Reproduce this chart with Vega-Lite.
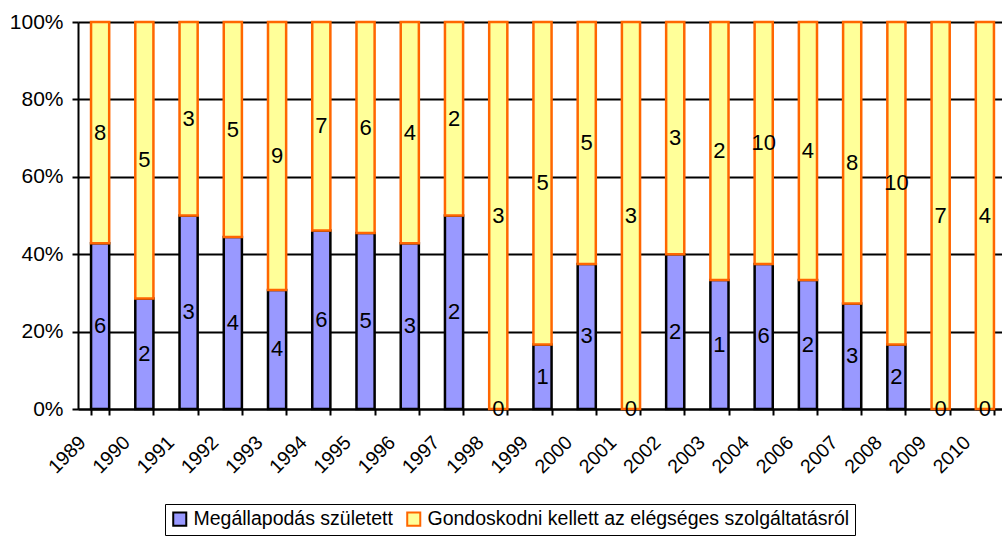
{
  "$schema": "https://vega.github.io/schema/vega-lite/v6.json",
  "width": 924,
  "height": 387,
  "autosize": {"type": "none"},
  "padding": {"left": 78, "top": 22, "right": 0, "bottom": 132},
  "background": "white",
  "config": {
    "font": "Liberation Sans",
    "view": {"stroke": null},
    "axis": {"labelColor": "black", "labelFont": "Liberation Sans"}
  },
  "data": {
    "values": [
      {"year": "1989", "series": "Megállapodás született", "order": 1, "value": 6},
      {"year": "1989", "series": "Gondoskodni kellett az elégséges szolgáltatásról", "order": 2, "value": 8},
      {"year": "1990", "series": "Megállapodás született", "order": 1, "value": 2},
      {"year": "1990", "series": "Gondoskodni kellett az elégséges szolgáltatásról", "order": 2, "value": 5},
      {"year": "1991", "series": "Megállapodás született", "order": 1, "value": 3},
      {"year": "1991", "series": "Gondoskodni kellett az elégséges szolgáltatásról", "order": 2, "value": 3},
      {"year": "1992", "series": "Megállapodás született", "order": 1, "value": 4},
      {"year": "1992", "series": "Gondoskodni kellett az elégséges szolgáltatásról", "order": 2, "value": 5},
      {"year": "1993", "series": "Megállapodás született", "order": 1, "value": 4},
      {"year": "1993", "series": "Gondoskodni kellett az elégséges szolgáltatásról", "order": 2, "value": 9},
      {"year": "1994", "series": "Megállapodás született", "order": 1, "value": 6},
      {"year": "1994", "series": "Gondoskodni kellett az elégséges szolgáltatásról", "order": 2, "value": 7},
      {"year": "1995", "series": "Megállapodás született", "order": 1, "value": 5},
      {"year": "1995", "series": "Gondoskodni kellett az elégséges szolgáltatásról", "order": 2, "value": 6},
      {"year": "1996", "series": "Megállapodás született", "order": 1, "value": 3},
      {"year": "1996", "series": "Gondoskodni kellett az elégséges szolgáltatásról", "order": 2, "value": 4},
      {"year": "1997", "series": "Megállapodás született", "order": 1, "value": 2},
      {"year": "1997", "series": "Gondoskodni kellett az elégséges szolgáltatásról", "order": 2, "value": 2},
      {"year": "1998", "series": "Megállapodás született", "order": 1, "value": 0},
      {"year": "1998", "series": "Gondoskodni kellett az elégséges szolgáltatásról", "order": 2, "value": 3},
      {"year": "1999", "series": "Megállapodás született", "order": 1, "value": 1},
      {"year": "1999", "series": "Gondoskodni kellett az elégséges szolgáltatásról", "order": 2, "value": 5},
      {"year": "2000", "series": "Megállapodás született", "order": 1, "value": 3},
      {"year": "2000", "series": "Gondoskodni kellett az elégséges szolgáltatásról", "order": 2, "value": 5},
      {"year": "2001", "series": "Megállapodás született", "order": 1, "value": 0},
      {"year": "2001", "series": "Gondoskodni kellett az elégséges szolgáltatásról", "order": 2, "value": 3},
      {"year": "2002", "series": "Megállapodás született", "order": 1, "value": 2},
      {"year": "2002", "series": "Gondoskodni kellett az elégséges szolgáltatásról", "order": 2, "value": 3},
      {"year": "2003", "series": "Megállapodás született", "order": 1, "value": 1},
      {"year": "2003", "series": "Gondoskodni kellett az elégséges szolgáltatásról", "order": 2, "value": 2},
      {"year": "2004", "series": "Megállapodás született", "order": 1, "value": 6},
      {"year": "2004", "series": "Gondoskodni kellett az elégséges szolgáltatásról", "order": 2, "value": 10},
      {"year": "2006", "series": "Megállapodás született", "order": 1, "value": 2},
      {"year": "2006", "series": "Gondoskodni kellett az elégséges szolgáltatásról", "order": 2, "value": 4},
      {"year": "2007", "series": "Megállapodás született", "order": 1, "value": 3},
      {"year": "2007", "series": "Gondoskodni kellett az elégséges szolgáltatásról", "order": 2, "value": 8},
      {"year": "2008", "series": "Megállapodás született", "order": 1, "value": 2},
      {"year": "2008", "series": "Gondoskodni kellett az elégséges szolgáltatásról", "order": 2, "value": 10},
      {"year": "2009", "series": "Megállapodás született", "order": 1, "value": 0},
      {"year": "2009", "series": "Gondoskodni kellett az elégséges szolgáltatásról", "order": 2, "value": 7},
      {"year": "2010", "series": "Megállapodás született", "order": 1, "value": 0},
      {"year": "2010", "series": "Gondoskodni kellett az elégséges szolgáltatásról", "order": 2, "value": 4}
    ]
  },
  "transform": [
    {"stack": "value", "groupby": ["year"], "sort": [{"field": "order", "order": "ascending"}], "offset": "normalize", "as": ["v0", "v1"]},
    {"calculate": "(datum.v0 + datum.v1) / 2", "as": "mid"}
  ],
  "encoding": {
    "x": {
      "field": "year",
      "type": "nominal",
      "sort": null,
      "scale": {"range": [0, 929], "paddingInner": 0.59, "paddingOuter": 0.295},
      "axis": {
        "title": null,
        "labelAngle": -45,
        "labelAlign": "right",
        "labelBaseline": "middle",
        "labelFontSize": 19.5,
        "labelPadding": 24,
        "labelOffset": -18,
        "tickBand": "extent",
        "tickColor": "black",
        "tickSize": 6,
        "tickWidth": 2,
        "domainColor": "black",
        "domainWidth": 2,
        "grid": false
      }
    }
  },
  "layer": [
    {
      "mark": {"type": "bar", "strokeWidth": 2.5},
      "encoding": {
        "y": {
          "field": "v0",
          "type": "quantitative",
          "scale": {"domain": [0, 1], "nice": false},
          "axis": {
            "title": null,
            "values": [0, 0.2, 0.4, 0.6, 0.8, 1],
            "format": ".0%",
            "labelFontSize": 21,
            "labelPadding": 9,
            "tickColor": "black",
            "tickSize": 6,
            "tickWidth": 2,
            "domainColor": "black",
            "domainWidth": 2,
            "grid": true,
            "gridColor": "black",
            "gridWidth": 2,
            "gridOpacity": 1
          }
        },
        "y2": {"field": "v1"},
        "fill": {
          "field": "series",
          "type": "nominal",
          "scale": {"domain": ["Megállapodás született", "Gondoskodni kellett az elégséges szolgáltatásról"], "range": ["#9999FF", "#FFFF99"]},
          "legend": {
            "title": null,
            "orient": "none",
            "legendX": 87,
            "legendY": 482,
            "direction": "horizontal",
            "strokeColor": "black",
            "fillColor": "white",
            "padding": 5,
            "symbolType": "square",
            "symbolSize": 170,
            "symbolStrokeWidth": 2,
            "labelFontSize": 19.5,
            "labelColor": "black",
            "labelLimit": 0,
            "labelOffset": 4,
            "columnPadding": 10
          }
        },
        "stroke": {
          "field": "series",
          "type": "nominal",
          "scale": {"domain": ["Megállapodás született", "Gondoskodni kellett az elégséges szolgáltatásról"], "range": ["#000000", "#FF6600"]},
          "legend": {
            "title": null,
            "orient": "none",
            "legendX": 87,
            "legendY": 482,
            "direction": "horizontal",
            "strokeColor": "black",
            "fillColor": "white",
            "padding": 5,
            "symbolType": "square",
            "symbolSize": 170,
            "symbolStrokeWidth": 2,
            "labelFontSize": 19.5,
            "labelColor": "black",
            "labelLimit": 0,
            "labelOffset": 4,
            "columnPadding": 10
          }
        }
      }
    },
    {
      "mark": {"type": "text", "fontSize": 22, "baseline": "middle", "color": "black"},
      "encoding": {
        "y": {"field": "mid", "type": "quantitative"},
        "text": {"field": "value", "type": "quantitative"}
      }
    }
  ]
}
